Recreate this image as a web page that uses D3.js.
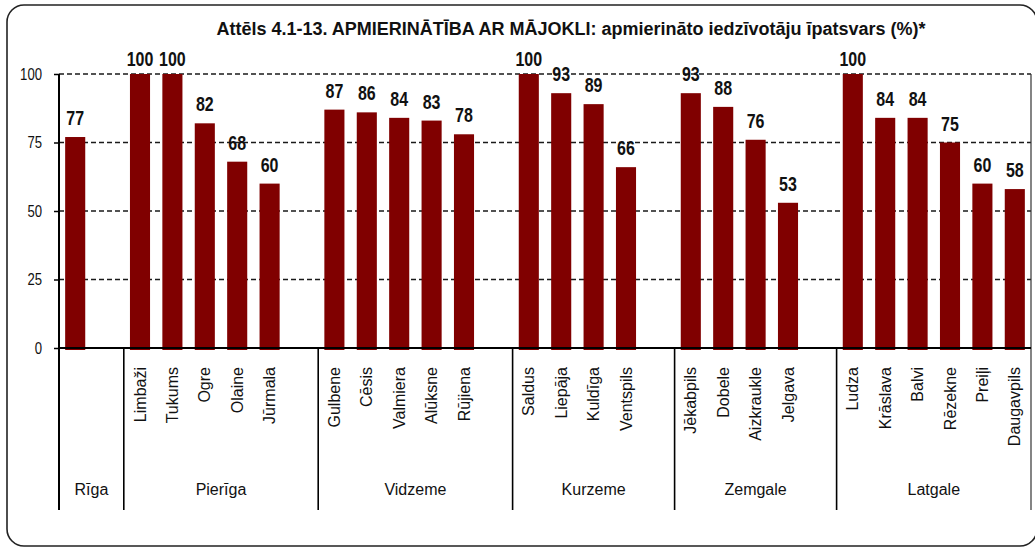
<!DOCTYPE html>
<html>
<head>
<meta charset="utf-8">
<script src="https://cdn.jsdelivr.net/npm/d3@7"></script>
<style>
  body { margin: 0; background: #fff; }
  svg { display: block; }
  text { font-family: "Liberation Sans", Arial, sans-serif; }
</style>
</head>
<body>
<svg id="chart" width="1035" height="548"></svg>
<script>
// data
const regions = ["Rīga", "Pierīga", "Vidzeme", "Kurzeme", "Zemgale", "Latgale"];
const towns = [
  ["Rīga"],
  ["Limbaži", "Tukums", "Ogre", "Olaine", "Jūrmala"],
  ["Gulbene", "Cēsis", "Valmiera", "Alūksne", "Rūjiena"],
  ["Saldus", "Liepāja", "Kuldīga", "Ventspils"],
  ["Jēkabpils", "Dobele", "Aizkraukle", "Jelgava"],
  ["Ludza", "Krāslava", "Balvi", "Rēzekne", "Preiļi", "Daugavpils"]
];
const values = [
  [77],
  [100, 100, 82, 68, 60],
  [87, 86, 84, 83, 78],
  [100, 93, 89, 66],
  [93, 88, 76, 53],
  [100, 84, 84, 75, 60, 58]
];
const yTicks = [0, 25, 50, 75, 100];
const titleText = "Attēls 4.1-13. APMIERINĀTĪBA AR MĀJOKLI: apmierināto iedzīvotāju īpatsvars (%)*";

const svg = d3.select("#chart");
const plotLeft = 59, plotRight = 1031, plotTop = 74, plotBottom = 348, axisBottom = 510;
const narrow = 0.82; // no Arial Narrow here, so squeeze Liberation Sans

// rows: one per bar, plus an empty slot after each region except the last
const rows = [];
const slots = [];
regions.forEach((r, gi) => {
  towns[gi].forEach((t, ti) => {
    const key = r + "|" + t;
    rows.push({ key, region: r, town: gi === 0 ? "" : t, value: values[gi][ti] });
    slots.push(key);
  });
  if (gi < regions.length - 1) slots.push("gap" + gi);
});

const pad = 0.38;
const x = d3.scaleBand().domain(slots).range([plotLeft, plotRight])
  .paddingInner(pad).paddingOuter(pad / 2);
const slotStart = (k) => x(k) - x.step() * pad / 2;

const y = d3.scaleLinear().domain([0, 100]).range([plotBottom, plotTop]);

// frame
svg.append("rect")
  .attr("x", 7).attr("y", 5)
  .attr("width", 1030).attr("height", 541)
  .attr("rx", 17).attr("ry", 17)
  .attr("fill", "#fff")
  .attr("stroke", "#222")
  .attr("stroke-width", 1.6);

// title
svg.append("text")
  .attr("x", 571).attr("y", 35)
  .attr("text-anchor", "middle")
  .attr("font-size", "18px")
  .attr("font-weight", "bold")
  .attr("fill", "#111")
  .text(titleText);

// gridlines
svg.append("g")
  .selectAll("line")
  .data(yTicks.filter((d) => d > 0))
  .join("line")
  .attr("x1", plotLeft).attr("x2", plotRight)
  .attr("y1", (d) => y(d)).attr("y2", (d) => y(d))
  .attr("stroke", "#1a1a1a")
  .attr("stroke-width", 1.4)
  .attr("stroke-dasharray", "5 3");

// right border of plot
svg.append("line")
  .attr("x1", plotRight).attr("x2", plotRight)
  .attr("y1", plotTop).attr("y2", axisBottom)
  .attr("stroke", "#333").attr("stroke-width", 1.2);

// bars
svg.append("g")
  .selectAll("rect")
  .data(rows)
  .join("rect")
  .attr("x", (d) => x(d.key))
  .attr("y", (d) => y(d.value))
  .attr("width", x.bandwidth())
  .attr("height", (d) => plotBottom - y(d.value) + 2)
  .attr("fill", "#800000");

// value labels
svg.append("g")
  .selectAll("text")
  .data(rows)
  .join("text")
  .attr("transform", (d) =>
    `translate(${x(d.key) + x.bandwidth() / 2},${Math.max(y(d.value) - 12, 66)}) scale(${narrow},1)`)
  .attr("text-anchor", "middle")
  .attr("font-size", "19.5px")
  .attr("font-weight", "bold")
  .attr("fill", "#111")
  .text((d) => d.value);

// y axis
const yAxis = svg.append("g")
  .attr("transform", `translate(${plotLeft},0)`)
  .call(d3.axisLeft(y).tickValues(yTicks).tickSize(5).tickPadding(12));
yAxis.select(".domain").remove();
yAxis.selectAll("line").attr("stroke", "#000").attr("stroke-width", 1.5);
yAxis.selectAll("text")
  .attr("font-family", null)
  .attr("font-size", "16px")
  .attr("fill", "#111")
  .attr("x", null)
  .attr("transform", `translate(-17,0) scale(${narrow},1)`);

svg.append("line")
  .attr("x1", plotLeft).attr("x2", plotLeft)
  .attr("y1", plotTop).attr("y2", axisBottom)
  .attr("stroke", "#000").attr("stroke-width", 2);

svg.append("line")
  .attr("x1", plotLeft).attr("x2", plotRight)
  .attr("y1", plotBottom).attr("y2", plotBottom)
  .attr("stroke", "#000").attr("stroke-width", 2);

// town labels
svg.append("g")
  .selectAll("text")
  .data(rows.filter((d) => d.town))
  .join("text")
  .attr("transform", (d) => `translate(${x(d.key) + x.bandwidth() / 2},367) rotate(-90)`)
  .attr("dy", "0.35em")
  .attr("text-anchor", "end")
  .attr("font-size", "16px")
  .attr("fill", "#111")
  .text((d) => d.town);

// region separators and labels
const regionSpans = regions.map((r, gi) => {
  const keys = rows.filter((d) => d.region === r).map((d) => d.key);
  const x0 = slotStart(keys[0]);
  const x1 = gi < regions.length - 1 ? slotStart("gap" + gi) + x.step() : plotRight;
  return { region: r, x0, x1 };
});

svg.append("g")
  .selectAll("line")
  .data(regionSpans.slice(1))
  .join("line")
  .attr("x1", (d) => d.x0).attr("x2", (d) => d.x0)
  .attr("y1", plotBottom).attr("y2", axisBottom)
  .attr("stroke", "#000").attr("stroke-width", 1.6);

svg.append("g")
  .selectAll("text")
  .data(regionSpans)
  .join("text")
  .attr("x", (d) => (d.x0 + d.x1) / 2)
  .attr("y", 495)
  .attr("text-anchor", "middle")
  .attr("font-size", "16px")
  .attr("fill", "#111")
  .text((d) => d.region);
</script>
</body>
</html>
